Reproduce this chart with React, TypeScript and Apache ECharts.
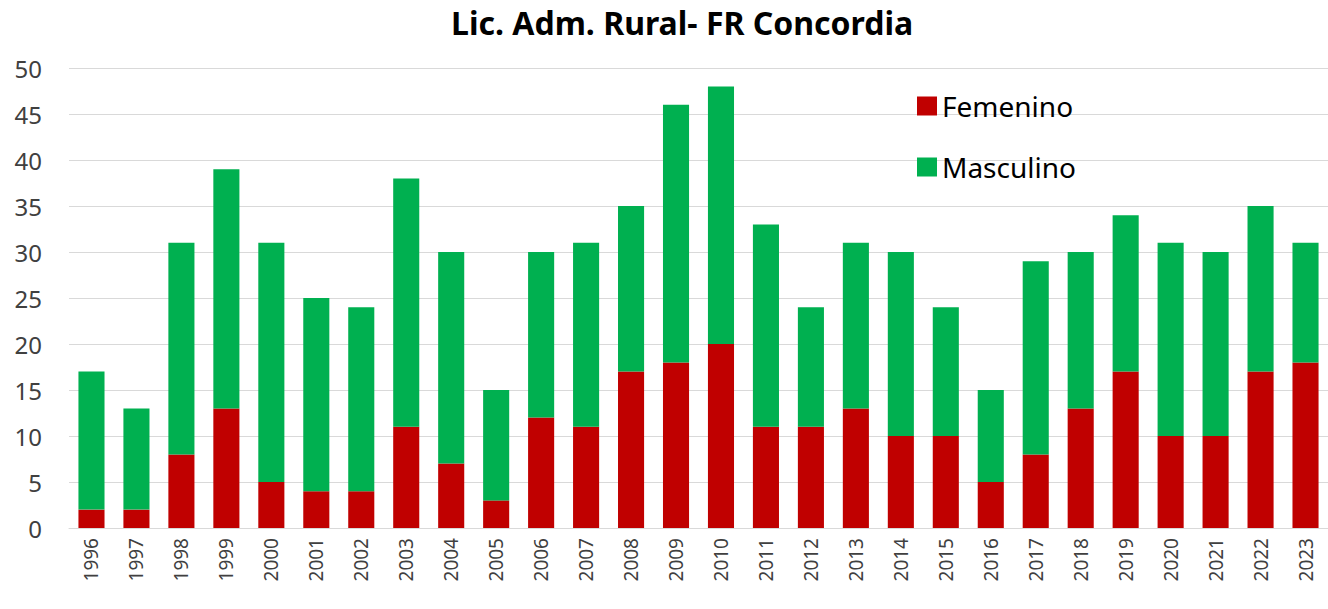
import React, { useEffect, useRef } from "react";
import * as echarts from "echarts";

const years = ["1996","1997","1998","1999","2000","2001","2002","2003","2004","2005","2006","2007","2008","2009","2010","2011","2012","2013","2014","2015","2016","2017","2018","2019","2020","2021","2022","2023"];
const femenino = [2,2,8,13,5,4,4,11,7,3,12,11,17,18,20,11,11,13,10,10,5,8,13,17,10,10,17,18];
const masculino = [15,11,23,26,26,21,20,27,23,12,18,20,18,28,28,22,13,18,20,14,10,21,17,17,21,20,18,13];
const titleText = "Lic. Adm. Rural- FR Concordia";
const FONT = "'Noto Sans', 'Open Sans', sans-serif";

export default function App() {
  const ref = useRef<HTMLDivElement>(null);
  useEffect(() => {
    if (!ref.current) return;
    const chart = echarts.init(ref.current, null, { renderer: "svg" });
    chart.setOption({
      animation: false,
      backgroundColor: "#ffffff",
      textStyle: { fontFamily: FONT },
      title: {
        text: titleText,
        left: 446,
        top: 1,
        textStyle: { fontFamily: FONT, fontSize: 32, fontWeight: "bold", color: "#000000" },
      },
      legend: {
        orient: "vertical",
        left: 912,
        top: 87,
        itemWidth: 20,
        itemHeight: 19,
        itemGap: 33,
        icon: "rect",
        textStyle: { fontFamily: FONT, fontSize: 28, color: "#000000" },
        data: ["Femenino", "Masculino"],
      },
      grid: { left: 69, right: 0, top: 68, bottom: 81, outerBoundsMode: "none", containLabel: false },
      xAxis: {
        type: "category",
        data: years,
        axisLine: { lineStyle: { color: "#d9d9d9" } },
        axisTick: { show: false },
        axisLabel: { rotate: 90, fontSize: 19, color: "#404040", margin: 10, fontFamily: FONT, interval: 0 },
      },
      yAxis: {
        type: "value",
        min: 0,
        max: 50,
        interval: 5,
        axisLine: { show: false },
        axisTick: { show: false },
        splitLine: { lineStyle: { color: "#d9d9d9" } },
        axisLabel: { fontSize: 24, color: "#404040", margin: 27, fontFamily: FONT },
      },
      series: [
        {
          name: "Femenino",
          type: "bar",
          stack: "total",
          data: femenino,
          barWidth: "58%",
          itemStyle: { color: "#C00000" },
        },
        {
          name: "Masculino",
          type: "bar",
          stack: "total",
          data: masculino,
          barWidth: "58%",
          itemStyle: { color: "#00B050" },
        },
      ],
    });
    return () => chart.dispose();
  }, []);
  return <div ref={ref} style={{ position: "fixed", left: 0, top: 0, width: 1328, height: 609 }} />;
}
